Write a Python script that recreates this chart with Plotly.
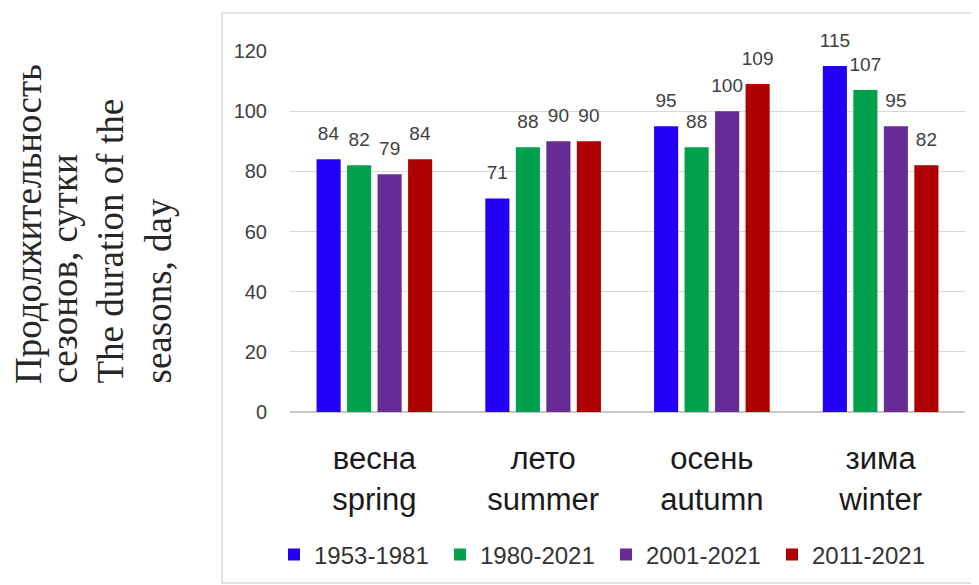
import plotly.graph_objects as go

# ---- data ----
categories = ["весна<br>spring", "лето<br>summer", "осень<br>autumn", "зима<br>winter"]
series_names = ["1953-1981", "1980-2021", "2001-2021", "2011-2021"]
v_1953_1981 = [84, 71, 95, 115]
v_1980_2021 = [82, 88, 88, 107]
v_2001_2021 = [79, 90, 100, 95]
v_2011_2021 = [84, 90, 109, 82]
series_values = [v_1953_1981, v_1980_2021, v_2001_2021, v_2011_2021]
colors = ["#2200F5", "#00A04C", "#682A96", "#AE0000"]
y_ticks = [0, 20, 40, 60, 80, 100, 120]
ytitle_lines = ["Продолжительность", "сезонов, сутки", "The duration of the", "seasons, day"]

# page body has an 8px margin: target screen pixels are shifted by OFF
OFF = 8
W, H = 979, 585
PLOT_L, PLOT_R, PLOT_T, PLOT_B = 290, 965, 51, 412   # screen px
L = PLOT_L - OFF
T = PLOT_T - OFF
R = W - (PLOT_R - OFF)
B = H - (PLOT_B - OFF)
PW, PH = W - L - R, H - T - B

def px_x(px):
    return (px - PLOT_L) / PW

def px_y(py):
    return (PLOT_B - py) / PH

LABEL_PAD = 4  # gap (in axis units) between bar top and value label

fig = go.Figure()
for i, (name, vals, col) in enumerate(zip(series_names, series_values, colors)):
    fig.add_trace(go.Bar(
        x=categories, y=vals, name=name, marker_color=col,
        marker_line_width=0, offsetgroup=str(i),
    ))
for i, (name, vals, col) in enumerate(zip(series_names, series_values, colors)):
    # invisible spacer carrying the value label slightly above the bar
    fig.add_trace(go.Bar(
        x=categories, y=[LABEL_PAD] * len(vals), base=vals, offsetgroup=str(i),
        marker_color="rgba(0,0,0,0)", marker_line_width=0,
        text=[str(v) for v in vals], textposition="outside",
        textfont=dict(size=19, color="#404040", family="Liberation Sans"),
        constraintext="none", cliponaxis=False, showlegend=False, hoverinfo="skip",
    ))

fig.update_layout(
    width=W, height=H,
    margin=dict(l=L, r=R, t=T, b=B, pad=0, autoexpand=False),
    paper_bgcolor="white", plot_bgcolor="white",
    barmode="group", bargap=0.277, bargroupgap=0.21,
    font=dict(family="Liberation Sans", color="#404040"),
    showlegend=True,
    legend=dict(
        orientation="h", x=px_x(606), xanchor="center", y=px_y(555), yanchor="middle",
        font=dict(size=24, color="#333333"), entrywidth=121, entrywidthmode="pixels",
        traceorder="normal", bgcolor="rgba(0,0,0,0)",
    ),
    xaxis=dict(
        type="category", showgrid=False, showline=False, zeroline=False,
        ticks="outside", ticklen=0, tickcolor="rgba(0,0,0,0)",
        ticklabelstandoff=19,
        tickfont=dict(size=31, color="#1a1a1a"),
    ),
    yaxis=dict(
        range=[0, 120], tickvals=y_ticks, showgrid=True, gridcolor="#D9D9D9", gridwidth=1,
        zeroline=True, zerolinecolor="#C8C8C8", zerolinewidth=1.5, showline=False,
        ticks="", ticklabelstandoff=22,
        tickfont=dict(size=20, color="#404040"),
    ),
)

# outer chart frame
fig.add_shape(
    type="rect", xref="paper", yref="paper",
    x0=px_x(222), x1=px_x(976), y0=px_y(583), y1=px_y(13),
    line=dict(color="#D9D9D9", width=1.5), fillcolor="rgba(0,0,0,0)", layer="below",
)

# y-axis title, four rotated lines starting at the same bottom point
line_centers = [28, 64, 110, 158]
for txt, cx in zip(ytitle_lines, line_centers):
    fig.add_annotation(
        text=txt, xref="paper", yref="paper", x=px_x(cx), y=px_y(386),
        xanchor="center", yanchor="bottom", textangle=-90, showarrow=False,
        font=dict(family="Liberation Serif", size=37, color="#262626"),
    )

fig.write_html("out.html")
